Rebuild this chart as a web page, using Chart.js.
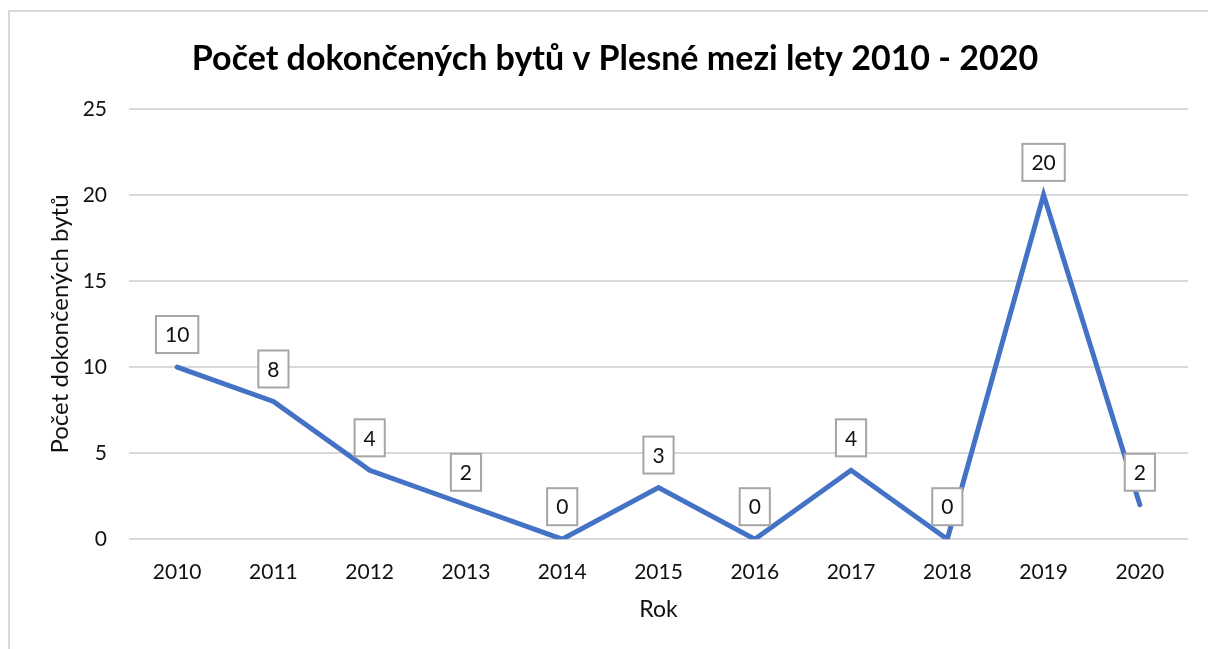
<!DOCTYPE html>
<html>
<head>
<meta charset="utf-8">
<script src="https://cdn.jsdelivr.net/npm/chart.js@4"></script>
<style>
  html, body { margin: 0; padding: 0; background: #fff; overflow: hidden; }
  #frame {
    position: absolute; left: 8px; top: 10px;
    width: 1400px; height: 900px;
    border: 2px solid #d9d9d9; box-sizing: border-box;
  }
  #wrap { position: absolute; left: 0; top: 0; width: 1208px; height: 649px; }
</style>
</head>
<body>
<div id="frame"></div>
<div id="wrap"><canvas id="chart"></canvas></div>
<script>
// Completed flats in Plesná, 2010-2020 (Excel-style line chart with boxed labels)

const YEARS  = ["2010", "2011", "2012", "2013", "2014", "2015", "2016", "2017", "2018", "2019", "2020"];
const FLATS  = [10, 8, 4, 2, 0, 3, 0, 4, 0, 20, 2];
const Y_TICKS = [0, 5, 10, 15, 20, 25];

const TITLE   = "Počet dokončených bytů v Plesné mezi lety 2010 - 2020";
const Y_TITLE = "Počet dokončených bytů";
const X_TITLE = "Rok";

const FONT = "Lato, 'Open Sans', sans-serif";
const INK  = "#111";
const LINE = "#4472C4";
const GRID = "#d9d9d9";

// Boxed value labels above each point, drawn after the line so they cover it
const boxLabels = {
  id: "boxLabels",
  afterDatasetsDraw(chart) {
    const ctx = chart.ctx;
    const meta = chart.getDatasetMeta(0);
    const values = chart.data.datasets[0].data;
    ctx.save();
    ctx.font = `21px ${FONT}`;
    ctx.textAlign = "center";
    ctx.textBaseline = "middle";
    meta.data.forEach((pt, i) => {
      const txt = String(values[i]);
      const w = ctx.measureText(txt).width + 18;
      const h = 37;
      const bottom = pt.y - 14;
      const left = pt.x - w / 2;
      ctx.fillStyle = "#fff";
      ctx.fillRect(left, bottom - h, w, h);
      ctx.strokeStyle = "#a6a6a6";
      ctx.lineWidth = 2;
      ctx.strokeRect(left, bottom - h, w, h);
      ctx.fillStyle = INK;
      ctx.fillText(txt, pt.x, bottom - h / 2 + 1);
    });
    ctx.restore();
  }
};

new Chart(document.getElementById("chart"), {
  type: "line",
  data: {
    labels: YEARS,
    datasets: [{
      data: FLATS,
      borderColor: LINE,
      borderWidth: 5,
      borderCapStyle: "round",
      borderJoinStyle: "miter",
      pointRadius: 0,
      tension: 0,
      fill: false,
    }],
  },
  options: {
    responsive: true,
    maintainAspectRatio: false,
    animation: false,
    layout: { padding: { left: 42, right: 20, top: 0, bottom: 26 } },
    plugins: {
      legend: { display: false },
      tooltip: { enabled: false },
      title: {
        display: true,
        text: TITLE,
        color: "#000",
        font: { family: FONT, size: 34, weight: "bold" },
        padding: { top: 39, bottom: 29 },
      },
    },
    scales: {
      x: {
        offset: true,
        grid: { display: false, drawTicks: false },
        border: { display: false },
        ticks: { color: INK, font: { family: FONT, size: 21 }, padding: 20, maxRotation: 0 },
        title: {
          display: true, text: X_TITLE, color: INK,
          font: { family: FONT, size: 23 }, padding: { top: -9, bottom: 0 },
        },
      },
      y: {
        min: 0,
        max: 25,
        afterBuildTicks: (scale) => { scale.ticks = Y_TICKS.map(v => ({ value: v })); },
        afterFit: (scale) => { scale.width = 87; },
        grid: { color: GRID, lineWidth: 2, drawTicks: false },
        border: { display: false },
        ticks: { color: INK, font: { family: FONT, size: 21 }, padding: 22 },
        title: {
          display: true, text: Y_TITLE, color: INK,
          font: { family: FONT, size: 24 }, padding: { top: 4, bottom: 0 },
        },
      },
    },
  },
  plugins: [boxLabels],
});
</script>
</body>
</html>
